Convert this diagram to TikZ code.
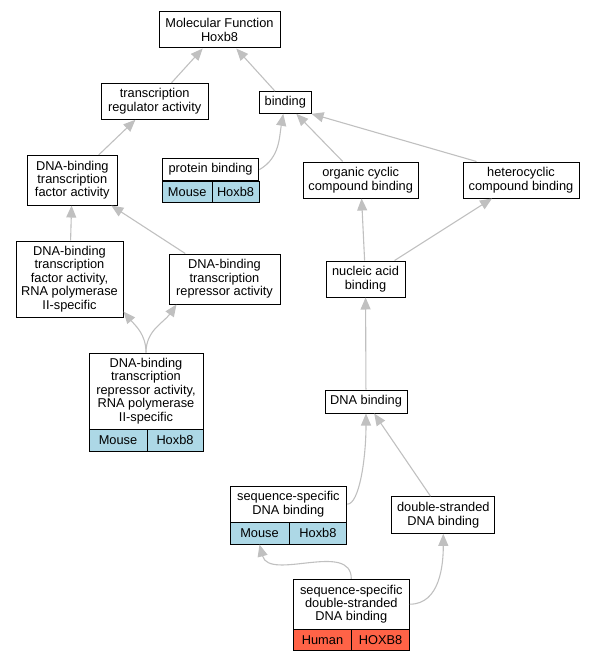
\documentclass[tikz,border=0pt]{standalone}
\usepackage{fontspec}
\setmainfont{Liberation Sans}
\usetikzlibrary{arrows.meta}
\definecolor{edgegray}{HTML}{C0C0C0}
\definecolor{mouseblue}{HTML}{ADD8E6}
\definecolor{humanred}{HTML}{FF6347}
\begin{document}
\begin{tikzpicture}[x=1pt,y=-1pt,
 term/.style={shape=rectangle,draw=black,line width=1pt,fill=white,inner sep=0pt,align=center,font=\fontsize{12.8}{13.4}\selectfont},
 mouse/.style={term,fill=mouseblue},
 human/.style={term,fill=humanred},
 isa/.style={draw=edgegray,line width=1.1pt,-{Triangle[length=12pt,width=10pt]}}]
 \useasboundingbox (0,0) rectangle (595,661);
 \node (term 1) at (219.5,30) [term,minimum width=121pt,minimum height=36pt] {Molecular Function\\Hoxb8};
 \node (term 2) at (154.7,101.3) [term,minimum width=107pt,minimum height=36pt] {transcription\\regulator activity};
 \node (term 3) at (285.3,102.5) [term,minimum width=51.5pt,minimum height=21.7pt] {binding};
 \node (term 4) at (72.3,180.2) [term,minimum width=90pt,minimum height=49.7pt] {DNA-binding\\transcription\\factor activity};
 \node (term 5) at (210.6,169.6) [term,minimum width=96.7pt,minimum height=22.7pt] {protein binding};
 \node (term 5 sp) at (187.2,191.9) [mouse,minimum width=49.7pt,minimum height=21.7pt] {Mouse};
 \node (term 5 gn) at (235.5,191.9) [mouse,minimum width=47pt,minimum height=21.7pt] {Hoxb8};
 \node (term 6) at (360.7,180) [term,minimum width=115pt,minimum height=36pt] {organic cyclic\\compound binding};
 \node (term 7) at (521,180) [term,minimum width=116pt,minimum height=36pt] {heterocyclic\\compound binding};
 \node (term 8) at (69.5,279) [term,minimum width=107pt,minimum height=76pt] {DNA-binding\\transcription\\factor activity,\\RNA polymerase\\II-specific};
 \node (term 9) at (224.5,279) [term,minimum width=111pt,minimum height=50pt] {DNA-binding\\transcription\\repressor activity};
 \node (term 10) at (365.5,279) [term,minimum width=79pt,minimum height=36pt] {nucleic acid\\binding};
 \node (term 11) at (146,391) [term,minimum width=114pt,minimum height=76pt] {DNA-binding\\transcription\\repressor activity,\\RNA polymerase\\II-specific};
 \node (term 11 sp) at (118,440) [mouse,minimum width=58pt,minimum height=22pt] {Mouse};
 \node (term 11 gn) at (175,440) [mouse,minimum width=56pt,minimum height=22pt] {Hoxb8};
 \node (term 12) at (366,401.5) [term,minimum width=82pt,minimum height=23pt] {DNA binding};
 \node (term 13) at (288.4,504.2) [term,minimum width=116.7pt,minimum height=36.3pt] {sequence-specific\\DNA binding};
 \node (term 13 sp) at (259.5,533.2) [mouse,minimum width=59pt,minimum height=21.7pt] {Mouse};
 \node (term 13 gn) at (317.9,533.2) [mouse,minimum width=57.7pt,minimum height=21.7pt] {Hoxb8};
 \node (term 14) at (443.3,515) [term,minimum width=103.3pt,minimum height=36.6pt] {double-stranded\\DNA binding};
 \node (term 15) at (351.3,604.2) [term,minimum width=116pt,minimum height=49.7pt] {sequence-specific\\double-stranded\\DNA binding};
 \node (term 15 sp) at (322.5,639.9) [human,minimum width=58.4pt,minimum height=21.7pt] {Human};
 \node (term 15 gn) at (380.5,639.9) [human,minimum width=57.6pt,minimum height=21.7pt] {HOXB8};
 \draw [isa] (term 2) -- (term 1);
 \draw [isa] (term 3) -- (term 1);
 \draw [isa] (term 4) -- (term 2);
 \draw [isa] (term 5.east) to[out=30,in=-100] ([xshift=-2pt]term 3.south);
 \draw [isa] (term 6) -- (term 3);
 \draw [isa] ([xshift=14pt]term 7.north west) -- (term 3.south east);
 \draw [isa] (term 8) -- (term 4);
 \draw [isa] (term 9) -- (term 4);
 \draw [isa] (term 10) -- (term 6);
 \draw [isa] (term 10) -- (term 7);
 \draw [isa] (term 11.north) to[out=90,in=-50] ([yshift=6pt]term 8.south east);
 \draw [isa] (term 11.north) to[out=90,in=-125] ([xshift=8pt]term 9.south west);
 \draw [isa] (term 12) -- (term 10);
 \draw [isa] (term 13.east) to[out=0,in=-90,out distance=12pt,in distance=45pt] (term 12.south);
 \draw [isa] (term 14) -- (term 12);
 \draw [isa] (term 15.north) to[out=90,in=-75] (term 13 sp.south);
 \draw [isa] (term 15.east) to[out=0,in=-90] (term 14.south);
\end{tikzpicture}
\end{document}
